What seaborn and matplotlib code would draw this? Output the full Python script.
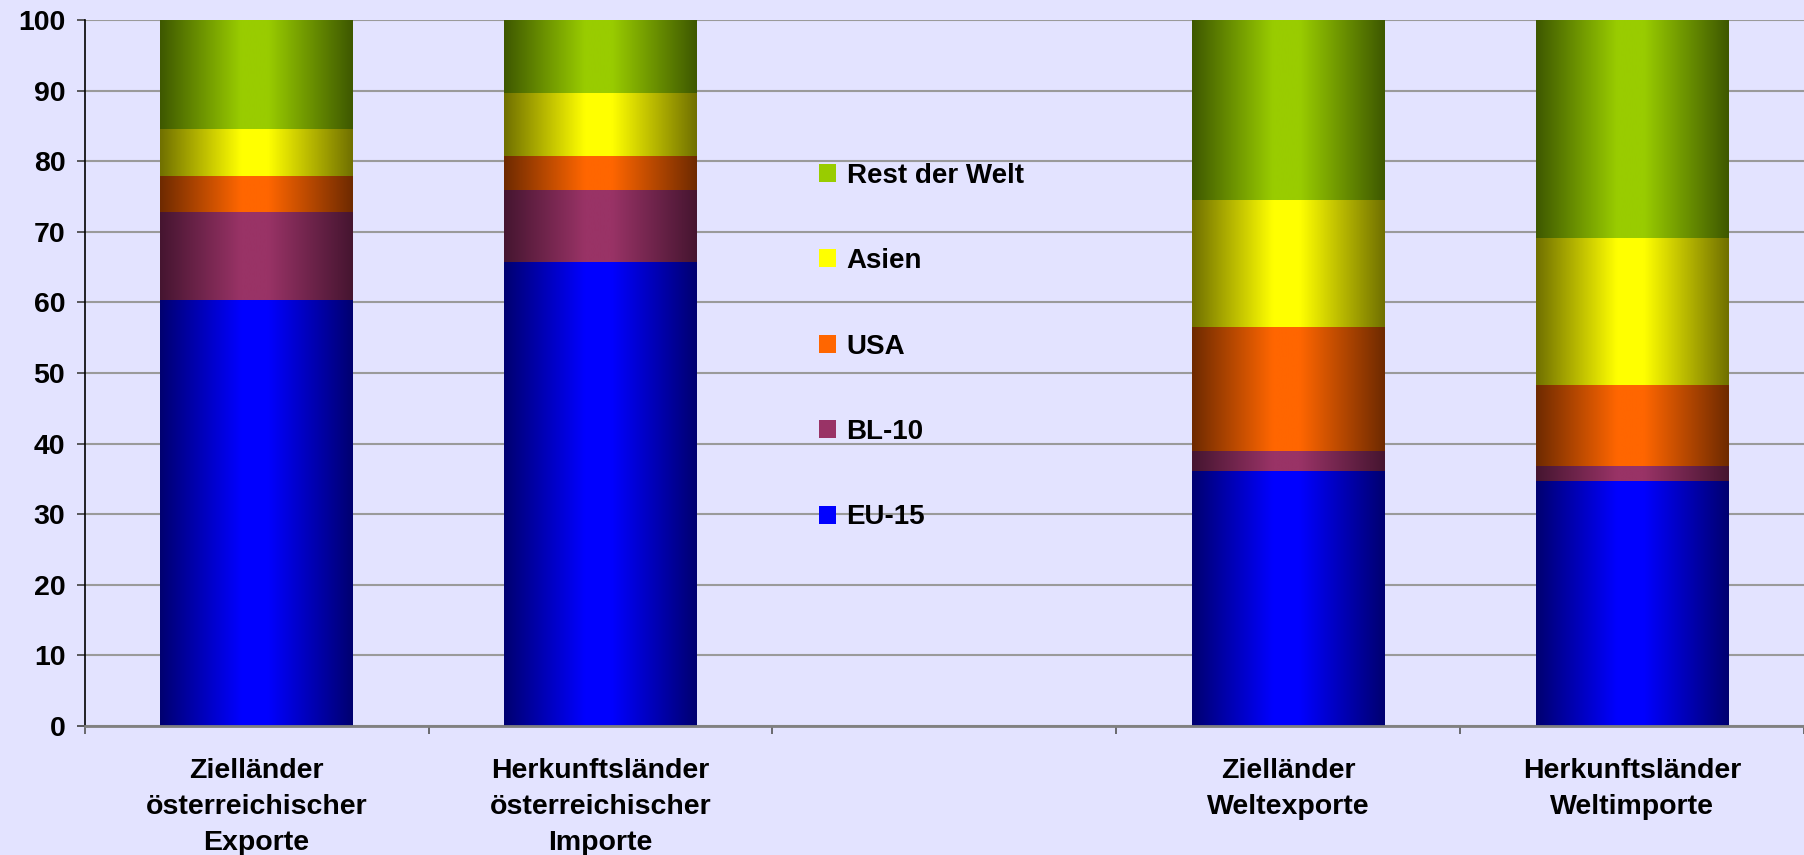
import numpy as np
import pandas as pd
import matplotlib
matplotlib.use("Agg")
import matplotlib.pyplot as plt
from matplotlib.patches import Patch
import seaborn as sns

# Daten (Anteile in %)
kategorien = ['Zielländer\nösterreichischer\nExporte',
              'Herkunftsländer\nösterreichischer\nImporte',
              'Zielländer\nWeltexporte',
              'Herkunftsländer\nWeltimporte']
slots = [kategorien[0], kategorien[1], ' ', kategorien[2], kategorien[3]]

regionen = ['EU-15', 'BL-10', 'USA', 'Asien', 'Rest der Welt']
eu15 = [60.2, 65.7, 36.0, 34.6]
bl10 = [12.6, 10.2, 2.9, 2.1]
usa = [5.1, 4.7, 17.6, 11.6]
asien = [6.6, 9.0, 18.0, 20.8]
rest = [15.5, 10.4, 25.5, 30.9]

# Farben: Mitte hell, Rand dunkel
farben_mitte = ['#0000FF', '#993366', '#FF6600', '#FFFF00', '#99CC00']
farben_rand = ['#000070', '#451530', '#6E2A00', '#707000', '#3E5800']

HG = '#E3E3FF'

df = pd.DataFrame({'Kategorie': kategorien, 'EU-15': eu15, 'BL-10': bl10,
                   'USA': usa, 'Asien': asien, 'Rest der Welt': rest})
kum = df[regionen].cumsum(axis=1)

sns.set_style("white")
plt.rcParams['font.family'] = ['Liberation Sans', 'DejaVu Sans']
plt.rcParams['font.weight'] = 'bold'
plt.rcParams['text.color'] = 'black'
plt.rcParams['xtick.labelcolor'] = 'black'
plt.rcParams['ytick.labelcolor'] = 'black'

fig = plt.figure(figsize=(18.04, 8.55), dpi=100, facecolor=HG)
ax = fig.add_axes([84.7 / 1804, 129 / 855, 1 - 84.7 / 1804, 706 / 855])
ax.set_facecolor(HG)


def verlauf(c_mitte, c_rand, n=256):
    t = np.linspace(0, 1, n)
    f = np.interp(t, [0, 0.42, 0.56, 1], [0, 1, 1, 0])
    a = np.array(matplotlib.colors.to_rgb(c_rand))
    b = np.array(matplotlib.colors.to_rgb(c_mitte))
    return (a + (b - a) * f[:, None])[None, :, :]


# gestapelte Balken: von oben nach unten übereinander zeichnen
for i in range(len(regionen) - 1, -1, -1):
    d = pd.DataFrame({'Kategorie': kategorien, 'wert': kum[regionen[i]]})
    n0 = len(ax.patches)
    sns.barplot(data=d, x='Kategorie', y='wert', order=slots, color=farben_mitte[i],
                width=0.56, errorbar=None, ax=ax)
    img = verlauf(farben_mitte[i], farben_rand[i])
    for p in ax.patches[n0:]:
        p.set_visible(False)
        x0, w, h = p.get_x(), p.get_width(), p.get_height()
        if np.isnan(h) or h == 0:
            continue
        ax.imshow(img, extent=(x0, x0 + w, 0, h), aspect='auto',
                  interpolation='bilinear', zorder=2 + (len(regionen) - i) * 0.1)

ax.set_xlim(-0.5, 4.5)
ax.set_ylim(0, 100)
ax.set_yticks(range(0, 101, 10))
ax.set_xlabel('')
ax.set_ylabel('')

ax.yaxis.grid(True, color='#9A9A9A', linewidth=1.5)
ax.set_axisbelow(True)
for s in ['top', 'right']:
    ax.spines[s].set_visible(False)
ax.spines['left'].set_color('black')
ax.spines['left'].set_linewidth(1.2)
ax.spines['bottom'].set_color('#808080')
ax.spines['bottom'].set_linewidth(2)
ax.spines['bottom'].set_zorder(5)

ax.tick_params(axis='y', direction='out', length=6, width=1.2, color='#404040',
               pad=8, labelsize=20.5, left=True)
ax.set_xticks(range(5))
ax.set_xticklabels(slots, fontsize=20.5, fontweight='bold', linespacing=1.5)
ax.tick_params(axis='x', which='major', length=0, pad=23)
ax.set_xticks(np.arange(-0.5, 4.6, 1), minor=True)
ax.tick_params(axis='x', which='minor', direction='out', length=6, width=1.2,
               color='#555555', bottom=True)
for lab in ax.get_yticklabels():
    lab.set_fontweight('bold')

handles = [Patch(facecolor=farben_mitte[i], edgecolor='none') for i in range(len(regionen))][::-1]
ax.legend(handles, regionen[::-1], loc='upper left', bbox_to_anchor=(0.427, 0.798),
          frameon=False, borderpad=0, borderaxespad=0, handlelength=0.6,
          handleheight=0.62, handletextpad=0.4, labelspacing=2.14,
          prop={'weight': 'bold', 'size': 20})

fig.savefig('out.png', dpi=100, facecolor=HG)
